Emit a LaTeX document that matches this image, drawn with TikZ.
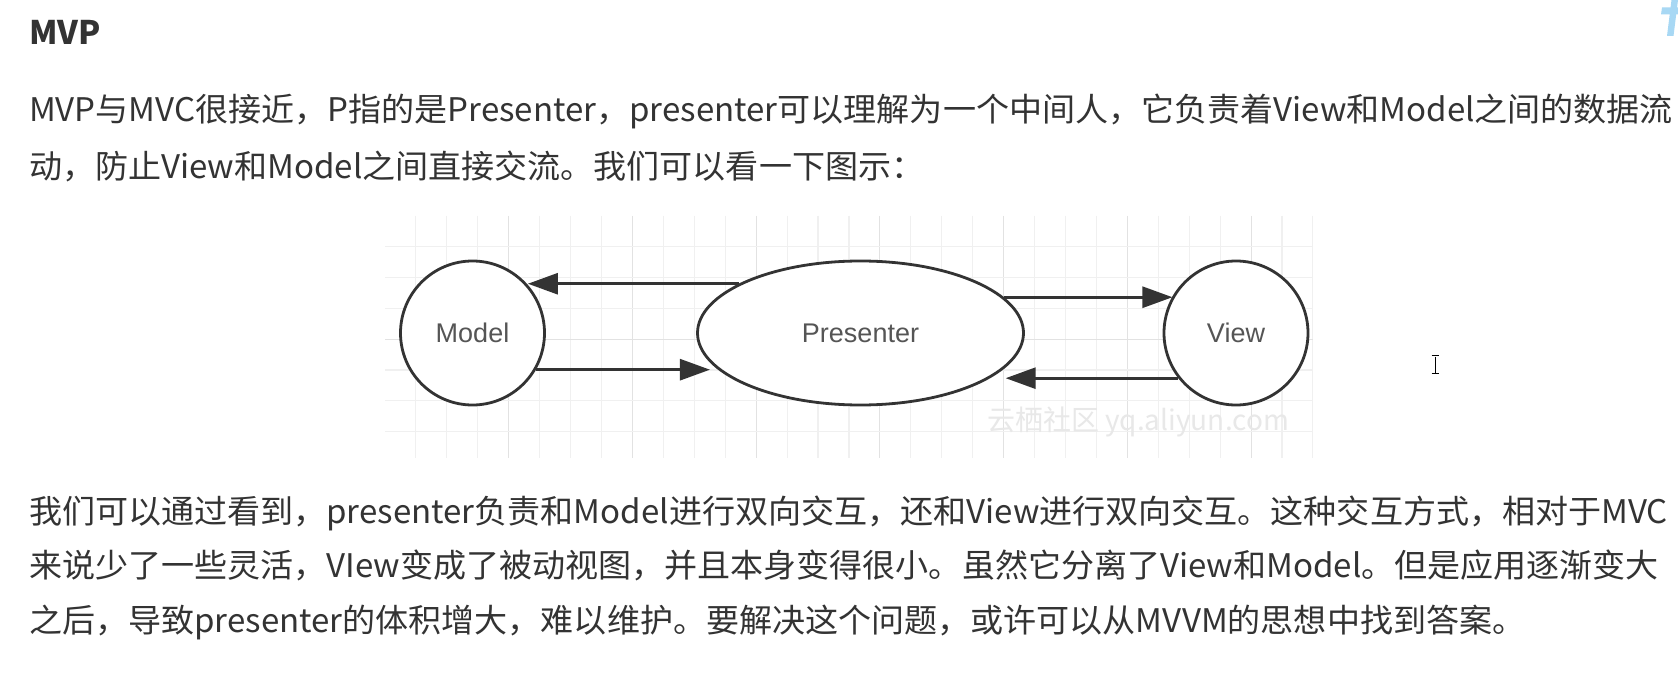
\documentclass[tikz,border=0pt]{standalone}
\usepackage{fontspec}
\usepackage{graphicx}
\usetikzlibrary{shapes.geometric,arrows.meta}
\setmainfont{Noto Sans CJK SC}
\newfontfamily\labelfont{Liberation Sans}
\definecolor{txt}{HTML}{333333}
\definecolor{lbl}{HTML}{555555}
\definecolor{edgec}{HTML}{333333}
\definecolor{gridminor}{HTML}{F0F0F0}
\definecolor{gridmajor}{HTML}{E2E2E2}
\definecolor{wm}{HTML}{E8E8E8}
\definecolor{blueglyph}{HTML}{A8D8F4}
\newsavebox\probebox
\newcommand\linesx{1}
\begin{document}
\sbox\probebox{\fontsize{32.5}{39}\selectfont MVP与MVC很接近，P指的是Presenter，presenter可以理解为一个中间人，它负责着View和Model之间的数据流}%
\pgfmathsetmacro\linesx{1644/\the\wd\probebox}%
\begin{tikzpicture}[x=1pt,y=-1pt,
  bodytext/.style={anchor=base west, inner sep=0pt, outer sep=0pt, text=txt, font=\fontsize{32.5}{39}\selectfont},
  blob/.style={draw=edgec, line width=2.8pt, fill=white, inner sep=0pt, font=\labelfont\fontsize{27}{32}\selectfont, text=lbl},
  roundnode/.style={blob, circle, minimum size=144pt},
  ovalnode/.style={blob, ellipse, minimum width=326pt, minimum height=144pt},
  flow/.style={draw=edgec, line width=2.8pt, -{Triangle[length=30pt,width=21pt]}},
  gridline/.style={line width=1.1pt},
]
\useasboundingbox (0,0) rectangle (1678,676);
\fill[white] (0,0) rectangle (1678,676);

% grid background
\foreach \k in {1,...,30}{
  \pgfmathtruncatemacro\m{mod(\k,4)}
  \ifnum\m=0 \def\gc{gridmajor}\else\def\gc{gridminor}\fi
  \draw[gridline, draw=\gc] ({385+30.93*\k},216) -- ({385+30.93*\k},458);
}
\foreach \k in {1,...,7}{
  \ifnum\k=4 \def\gc{gridmajor}\else\def\gc{gridminor}\fi
  \draw[gridline, draw=\gc] (385,{216+30.8*\k}) -- (1313,{216+30.8*\k});
}

% watermark
\node[inner sep=0pt, text=wm, font=\fontsize{28}{32}\selectfont] (wmk) at (1138,422) {云栖社区 yq.aliyun.com};

% nodes
\node[roundnode] (M) at (472.5,333) {Model};
\node[ovalnode] (P) at (860.5,333) {Presenter};
\node[roundnode] (V) at (1236,333) {View};

% connectors
\draw[flow] (P.158.3) -- (M.41.8 |- P.158.3);
\draw[flow, shorten >=7pt] (M.-30.45) -- (P.194.6 |- M.-30.45);
\draw[flow] (P.14) -- (V.150.7 |- P.14);
\draw[flow, shorten >=15pt] (V.218.4) -- (P.-19.3 |- V.218.4);

% text
\node[bodytext, font=\bfseries\fontsize{32.5}{39}\selectfont] (head) at (29,45) {MVP};
\node[bodytext] (p1a) at (29,121.5) {\scalebox{\linesx}[1]{MVP与MVC很接近，P指的是Presenter，presenter可以理解为一个中间人，它负责着View和Model之间的数据流}};
\node[bodytext] (p1b) at (29,178.5) {\scalebox{\linesx}[1]{动，防止View和Model之间直接交流。我们可以看一下图示：}};
\node[bodytext] (p2a) at (29,523) {\scalebox{\linesx}[1]{我们可以通过看到，presenter负责和Model进行双向交互，还和View进行双向交互。这种交互方式，相对于MVC}};
\node[bodytext] (p2b) at (29,577.5) {\scalebox{\linesx}[1]{来说少了一些灵活，VIew变成了被动视图，并且本身变得很小。虽然它分离了View和Model。但是应用逐渐变大}};
\node[bodytext] (p2c) at (29,632) {\scalebox{\linesx}[1]{之后，导致presenter的体积增大，难以维护。要解决这个问题，或许可以从MVVM的思想中找到答案。}};

% text cursor
\draw[black, line width=1pt] (1435,356.5) -- (1435,372.5);
\draw[black, line width=0.9pt] (1431.5,355.5) -- (1438.5,355.5);
\draw[black, line width=0.9pt] (1431.5,373.5) -- (1438.5,373.5);

% cut-off light blue glyph at the top right
\fill[blueglyph] (1671.5,0) -- (1678,0) -- (1673.5,36) -- (1667,36) -- cycle;
\fill[blueglyph] (1662,7.5) -- (1678,7.5) -- (1678,14.5) -- (1661,14.5) -- cycle;
\end{tikzpicture}
\end{document}
